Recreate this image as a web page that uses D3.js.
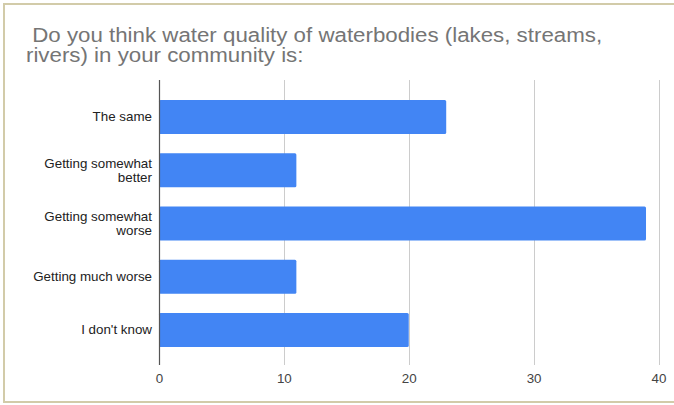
<!DOCTYPE html>
<html>
<head>
<meta charset="utf-8">
<script src="https://cdn.jsdelivr.net/npm/d3@7"></script>
<style>
  html, body { margin: 0; padding: 0; background: #fff; }
  svg { display: block; font-family: Arial, "Liberation Sans", sans-serif; }
</style>
</head>
<body>
<svg id="chart" width="674" height="405"></svg>
<script>
// Survey responses
const categories = [
  ["The same"],
  ["Getting somewhat", "better"],
  ["Getting somewhat", "worse"],
  ["Getting much worse"],
  ["I don't know"]
];
const counts = [23, 11, 39, 11, 20];
const xTicks = [0, 10, 20, 30, 40];
const titleLines = [" Do you think water quality of waterbodies (lakes, streams,", "rivers) in your community is:"];

(function () {
  const svg = d3.select("#chart");
  const W = 674, H = 405;
  const SX = 1.115; // horizontal widening of the lettering

  // Frame
  svg.append("rect")
    .attr("x", 4).attr("y", 4)
    .attr("width", W + 4).attr("height", H - 3 - 4)
    .attr("fill", "#fff")
    .attr("stroke", "#d2cba9")
    .attr("stroke-width", 2);

  // Title
  const title = svg.append("g")
    .attr("fill", "#757575")
    .attr("font-size", 20);
  titleLines.forEach((t, i) => {
    title.append("text")
      .attr("transform", `translate(26, ${42 + i * 20}) scale(${SX}, 1)`)
      .attr("xml:space", "preserve")
      .style("white-space", "pre")
      .text(t);
  });

  const pl = 159, pr = 658.5, pt = 80, pb = 367;

  const x = d3.scaleLinear().domain([0, 40]).range([pl, pr]);
  const y = d3.scaleBand()
    .domain(d3.range(categories.length))
    .range([pt, pb])
    .paddingInner(0.36)
    .paddingOuter(0.375);

  // Vertical gridlines
  svg.append("g")
    .selectAll("line")
    .data(xTicks.slice(1))
    .join("line")
    .attr("x1", d => Math.round(x(d)) + 0.5)
    .attr("x2", d => Math.round(x(d)) + 0.5)
    .attr("y1", pt)
    .attr("y2", 365)
    .attr("stroke", "#cccccc")
    .attr("stroke-width", 1);

  // Bars
  svg.append("g")
    .selectAll("rect")
    .data(counts)
    .join("rect")
    .attr("x", x(0))
    .attr("y", (d, i) => y(i))
    .attr("width", d => x(d) - x(0))
    .attr("height", y.bandwidth())
    .attr("rx", 1.5)
    .attr("fill", "#4285f4");

  // Baseline axis
  svg.append("line")
    .attr("x1", Math.round(x(0)) + 0.5)
    .attr("x2", Math.round(x(0)) + 0.5)
    .attr("y1", pt)
    .attr("y2", 365)
    .attr("stroke", "#555")
    .attr("stroke-width", 1.2);

  // Tick labels
  const xAxis = d3.axisBottom(x).tickValues(xTicks).tickSize(0).tickPadding(0);
  const gx = svg.append("g").attr("transform", "translate(0, 383)").call(xAxis);
  gx.select(".domain").remove();
  gx.selectAll("text")
    .attr("dy", 0)
    .attr("y", 0)
    .attr("transform", `scale(${SX}, 1)`)
    .attr("font-family", "Arial, 'Liberation Sans', sans-serif")
    .attr("font-size", 12)
    .attr("fill", "#444");

  // Category labels
  const labels = svg.append("g")
    .attr("font-size", 12)
    .attr("fill", "#222")
    .attr("text-anchor", "end");
  categories.forEach((lines, i) => {
    const cy = y(i) + y.bandwidth() / 2;
    const n = lines.length;
    lines.forEach((l, j) => {
      labels.append("text")
        .attr("transform", `translate(152, ${cy + 4.3 + (j - (n - 1) / 2) * 14}) scale(${SX}, 1)`)
        .text(l);
    });
  });
})();
</script>
</body>
</html>
